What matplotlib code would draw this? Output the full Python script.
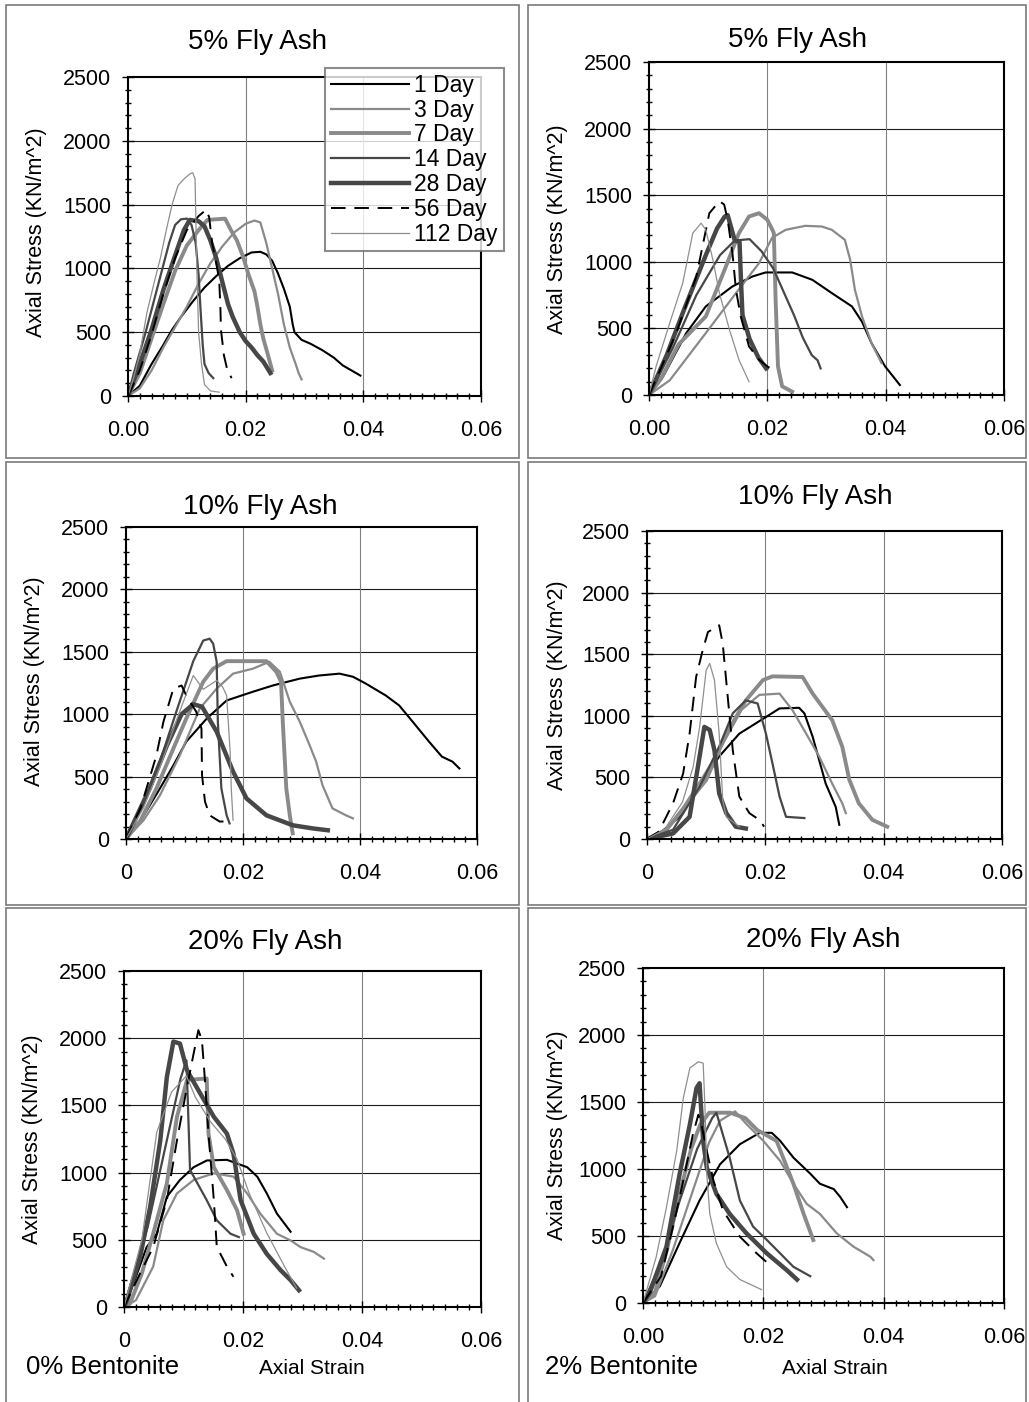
import matplotlib
matplotlib.use("Agg")
import matplotlib.pyplot as plt
from matplotlib.patches import Rectangle
from matplotlib.lines import Line2D
from matplotlib.ticker import MultipleLocator

plt.rcParams['font.family'] = ['Liberation Sans', 'DejaVu Sans']

W, H = 1029, 1402

ages = ['1 Day', '3 Day', '7 Day', '14 Day', '28 Day', '56 Day', '112 Day']
titles = ['5% Fly Ash', '5% Fly Ash', '10% Fly Ash', '10% Fly Ash', '20% Fly Ash', '20% Fly Ash']
xticks = [0, 0.02, 0.04, 0.06]
xlabels_dec = ['0.00', '0.02', '0.04', '0.06']
xlabels_int = ['0', '0.02', '0.04', '0.06']
yticks = [0, 500, 1000, 1500, 2000, 2500]

# (strain, stress kN/m^2)
# 5% fly ash, 0% bentonite
tl_d1 = [(0, 0), (0.002, 80), (0.004, 250), (0.006, 400), (0.0075, 520), (0.009, 620), (0.011, 740),
         (0.013, 850), (0.015, 940), (0.017, 1020), (0.019, 1080), (0.021, 1125), (0.0225, 1130),
         (0.0235, 1110), (0.0245, 1060), (0.0255, 960), (0.0265, 840), (0.0275, 700), (0.028, 560),
         (0.0283, 500), (0.0295, 440), (0.031, 410), (0.033, 360), (0.035, 300), (0.0365, 240),
         (0.038, 200), (0.0395, 160)]
tl_d3 = [(0, 0), (0.002, 60), (0.004, 200), (0.006, 380), (0.008, 540), (0.010, 700), (0.012, 880),
         (0.014, 1040), (0.016, 1170), (0.018, 1280), (0.020, 1350), (0.0215, 1375), (0.0225, 1360),
         (0.0235, 1200), (0.0245, 1000), (0.0255, 800), (0.0265, 560), (0.0275, 380), (0.0285, 250),
         (0.029, 180), (0.0295, 130)]
tl_d7 = [(0, 0), (0.002, 180), (0.004, 450), (0.006, 720), (0.008, 980), (0.010, 1180), (0.012, 1300),
         (0.0135, 1380), (0.0165, 1390), (0.0175, 1300), (0.0185, 1220), (0.0195, 1100), (0.0205, 950),
         (0.0215, 820), (0.022, 700), (0.0225, 560), (0.023, 450), (0.0238, 320), (0.0245, 200)]
tl_d14 = [(0, 0), (0.001, 180), (0.003, 500), (0.005, 850), (0.007, 1200), (0.008, 1340), (0.009, 1385),
          (0.010, 1390), (0.0108, 1340), (0.0115, 1200), (0.012, 950), (0.0123, 700), (0.0127, 400),
          (0.013, 250), (0.0137, 180), (0.0145, 140)]
tl_d28 = [(0, 0), (0.002, 250), (0.004, 520), (0.006, 830), (0.008, 1100), (0.0095, 1300), (0.0105, 1380),
          (0.012, 1370), (0.013, 1330), (0.014, 1220), (0.015, 1080), (0.016, 900), (0.017, 720),
          (0.0178, 620), (0.019, 500), (0.020, 430), (0.021, 380), (0.022, 320), (0.023, 270), (0.0242, 180)]
tl_d56 = [(0, 0), (0.002, 200), (0.004, 480), (0.006, 800), (0.008, 1080), (0.010, 1300), (0.012, 1410),
          (0.0133, 1460), (0.0138, 1400), (0.0143, 1200), (0.015, 1040), (0.0155, 910), (0.0157, 700),
          (0.0158, 520), (0.0163, 320), (0.0168, 220), (0.0176, 140)]
tl_d112 = [(0, 0), (0.001, 150), (0.002, 330), (0.0032, 650), (0.0045, 900), (0.0055, 1080), (0.0066, 1320),
           (0.0075, 1500), (0.0085, 1650), (0.0095, 1700), (0.0105, 1740), (0.011, 1750), (0.0114, 1700),
           (0.0117, 1000), (0.012, 500), (0.0125, 250), (0.013, 90), (0.014, 40), (0.0155, 30)]

# 5% fly ash, 2% bentonite
tr_d1 = [(0, 0), (0.0024, 140), (0.0063, 465), (0.0096, 665), (0.0141, 815), (0.0175, 890), (0.0197, 920),
         (0.0242, 920), (0.0276, 865), (0.0309, 765), (0.0343, 665), (0.036, 550), (0.0376, 390),
         (0.0399, 215), (0.0424, 75)]
tr_d3 = [(0, 0), (0.0035, 110), (0.0096, 465), (0.0147, 765), (0.0186, 990), (0.0208, 1180), (0.0231, 1240),
         (0.0264, 1270), (0.0292, 1265), (0.0309, 1240), (0.0331, 1165), (0.034, 1015), (0.0348, 790),
         (0.036, 590), (0.0376, 390), (0.0393, 240)]
tr_d7 = [(0, 0), (0.002, 120), (0.005, 380), (0.0096, 590), (0.013, 965), (0.0152, 1215), (0.0169, 1340),
         (0.0186, 1365), (0.020, 1315), (0.0208, 1245), (0.0211, 1215), (0.0214, 715), (0.0218, 215),
         (0.0225, 65), (0.0242, 25)]
tr_d14 = [(0, 0), (0.004, 350), (0.008, 750), (0.012, 1050), (0.0145, 1160), (0.017, 1170), (0.019, 1080),
          (0.021, 950), (0.023, 750), (0.0245, 600), (0.026, 430), (0.0275, 300), (0.0285, 260), (0.029, 200)]
tr_d28 = [(0, 0), (0.003, 300), (0.006, 650), (0.0096, 1050), (0.0115, 1250), (0.0128, 1340), (0.0133, 1350),
          (0.0145, 1160), (0.0153, 1150), (0.0156, 800), (0.0158, 600), (0.017, 420), (0.0185, 280),
          (0.0198, 200)]
tr_d56 = [(0, 0), (0.002, 200), (0.0046, 465), (0.008, 890), (0.0102, 1365), (0.0119, 1455), (0.0127, 1430),
          (0.0133, 1315), (0.0141, 1065), (0.0147, 790), (0.0155, 590), (0.0169, 365), (0.0186, 265),
          (0.020, 215), (0.0214, 175)]
tr_d112 = [(0, 0), (0.0012, 215), (0.0035, 540), (0.0057, 840), (0.0074, 1215), (0.0088, 1290),
           (0.0096, 1240), (0.0108, 1015), (0.0119, 765), (0.0136, 490), (0.0152, 265), (0.0169, 100)]

# 10% fly ash, 0% bentonite
ml_d1 = [(0, 0), (0.0024, 140), (0.0058, 405), (0.0081, 590), (0.0103, 780), (0.0138, 965), (0.0172, 1110),
         (0.0217, 1180), (0.0251, 1230), (0.0297, 1285), (0.033, 1310), (0.0365, 1325), (0.0388, 1300),
         (0.041, 1245), (0.0444, 1150), (0.0467, 1070), (0.049, 940), (0.0518, 780), (0.054, 660),
         (0.0558, 620), (0.057, 565)]
ml_d3 = [(0, 0), (0.003, 150), (0.0058, 350), (0.0092, 670), (0.0126, 1045), (0.0155, 1205), (0.0183, 1325),
         (0.0217, 1365), (0.0245, 1420), (0.0263, 1340), (0.028, 1100), (0.0297, 940), (0.0314, 750),
         (0.0325, 620), (0.0336, 430), (0.0353, 245), (0.0376, 190), (0.0388, 165)]
ml_d7 = [(0, 0), (0.0025, 150), (0.0052, 405), (0.0081, 725), (0.0103, 965), (0.0132, 1260), (0.0149, 1365),
         (0.0172, 1425), (0.024, 1425), (0.0257, 1340), (0.0265, 1260), (0.0268, 940), (0.0274, 405),
         (0.028, 190), (0.0285, 45)]
ml_d14 = [(0, 0), (0.003, 280), (0.0058, 620), (0.0086, 1020), (0.0115, 1425), (0.0132, 1590), (0.0143, 1605),
          (0.0149, 1565), (0.0155, 1420), (0.0157, 940), (0.0163, 405), (0.0172, 190), (0.0177, 125)]
ml_d28 = [(0, 0), (0.004, 400), (0.007, 750), (0.0095, 1000), (0.0115, 1080), (0.013, 1060), (0.0155, 860),
          (0.0183, 540), (0.0206, 325), (0.024, 190), (0.0285, 110), (0.0319, 85), (0.0345, 70)]
ml_d56 = [(0, 0), (0.0025, 250), (0.0052, 670), (0.0064, 940), (0.0081, 1205), (0.0095, 1230), (0.0103, 1150),
          (0.012, 1020), (0.0129, 885), (0.013, 510), (0.0135, 300), (0.0143, 190), (0.016, 140), (0.0177, 140)]
ml_d112 = [(0, 0), (0.003, 250), (0.006, 600), (0.009, 1000), (0.0115, 1310), (0.0132, 1200), (0.0155, 1270),
           (0.0165, 1220), (0.0172, 1150), (0.0178, 700), (0.018, 400), (0.0183, 150)]

# 10% fly ash, 2% bentonite
mr_d1 = [(0, 0), (0.0021, 45), (0.0055, 180), (0.0089, 425), (0.0122, 670), (0.0156, 855), (0.0201, 990),
         (0.0224, 1060), (0.0257, 1065), (0.0266, 1020), (0.028, 830), (0.0302, 450), (0.0319, 260),
         (0.0325, 115)]
mr_d3 = [(0, 0), (0.003, 60), (0.006, 250), (0.009, 470), (0.012, 700), (0.016, 1050), (0.019, 1170),
         (0.0224, 1180), (0.0246, 1045), (0.0269, 855), (0.0291, 670), (0.0313, 450), (0.033, 290),
         (0.0336, 210)]
mr_d7 = [(0, 0), (0.0033, 75), (0.010, 480), (0.0134, 855), (0.0167, 1125), (0.0196, 1290), (0.0212, 1320),
         (0.0263, 1315), (0.028, 1180), (0.0313, 965), (0.033, 750), (0.0342, 480), (0.0358, 290),
         (0.0381, 155), (0.0406, 100)]
mr_d14 = [(0, 0), (0.0044, 75), (0.0089, 425), (0.0122, 750), (0.0145, 1020), (0.0167, 1125), (0.0187, 1100),
          (0.0201, 855), (0.0212, 615), (0.0224, 345), (0.0235, 180), (0.0266, 170)]
mr_d28 = [(0, 0), (0.0044, 45), (0.0072, 180), (0.0086, 585), (0.0097, 910), (0.0106, 885), (0.0114, 720),
          (0.0122, 370), (0.0134, 210), (0.015, 100), (0.0167, 85)]
mr_d56 = [(0, 0), (0.002, 60), (0.0044, 290), (0.0061, 530), (0.0072, 855), (0.0083, 1315), (0.0094, 1530),
          (0.0103, 1680), (0.0122, 1735), (0.0128, 1585), (0.0137, 1125), (0.0145, 720), (0.0156, 345),
          (0.0173, 210), (0.019, 155), (0.0198, 100)]
mr_d112 = [(0, 0), (0.003, 80), (0.006, 300), (0.0078, 585), (0.0089, 910), (0.010, 1370), (0.0106, 1425),
           (0.0114, 1290), (0.0122, 855), (0.0128, 315), (0.0134, 180), (0.0156, 100)]

# 20% fly ash, 0% bentonite
bl_d1 = [(0, 0), (0.0016, 175), (0.0038, 445), (0.0055, 545), (0.0072, 820), (0.0094, 945), (0.0117, 1040),
         (0.0139, 1090), (0.0173, 1095), (0.0207, 1040), (0.0224, 970), (0.024, 845), (0.0257, 695),
         (0.028, 560)]
bl_d3 = [(0, 0), (0.002, 50), (0.0049, 300), (0.0066, 645), (0.0089, 845), (0.0117, 945), (0.0151, 995),
         (0.0184, 970), (0.0207, 845), (0.0229, 695), (0.0257, 545), (0.028, 495), (0.0297, 445),
         (0.0319, 410), (0.0336, 360)]
bl_d7 = [(0, 0), (0.001, 25), (0.003, 250), (0.0049, 545), (0.0072, 920), (0.0089, 1415), (0.0106, 1690),
         (0.0139, 1700), (0.0142, 1290), (0.0151, 1040), (0.0173, 870), (0.019, 720), (0.0201, 545)]
bl_d14 = [(0, 0), (0.004, 600), (0.007, 1200), (0.0095, 1700), (0.0105, 1835), (0.0111, 1020), (0.0139, 795),
          (0.0156, 645), (0.0179, 545), (0.0193, 520)]
bl_d28 = [(0, 0), (0.0005, 50), (0.0027, 370), (0.0044, 745), (0.0061, 1240), (0.0072, 1710), (0.0083, 1975),
          (0.0094, 1960), (0.0106, 1760), (0.0128, 1590), (0.0151, 1415), (0.0173, 1290), (0.0184, 1140),
          (0.0196, 795), (0.0218, 545), (0.024, 395), (0.0263, 275), (0.028, 200), (0.0294, 125)]
bl_d56 = [(0, 0), (0.0027, 250), (0.0049, 445), (0.0072, 795), (0.0089, 1240), (0.0106, 1640), (0.0117, 1885),
          (0.0125, 2060), (0.0131, 1985), (0.0136, 1690), (0.0142, 1290), (0.0151, 795), (0.0156, 445),
          (0.0165, 370), (0.0173, 300), (0.0184, 225)]
bl_d112 = [(0, 0), (0.003, 500), (0.0055, 1300), (0.008, 1600), (0.0105, 1720), (0.012, 1560), (0.0145, 1380),
           (0.017, 1250), (0.019, 1100), (0.021, 850), (0.024, 550), (0.027, 300), (0.029, 140)]

# 20% fly ash, 2% bentonite
br_d1 = [(0, 0), (0.0028, 125), (0.0061, 450), (0.0094, 765), (0.0128, 1035), (0.0161, 1185), (0.0194, 1270),
         (0.0214, 1270), (0.0228, 1210), (0.025, 1085), (0.0278, 965), (0.0294, 890), (0.0317, 850),
         (0.0328, 790), (0.0339, 715)]
br_d3 = [(0, 0), (0.002, 50), (0.005, 400), (0.008, 800), (0.011, 1200), (0.0128, 1360), (0.0153, 1430),
         (0.0172, 1335), (0.020, 1210), (0.0228, 1060), (0.025, 890), (0.0272, 740), (0.0294, 665),
         (0.0322, 520), (0.035, 420), (0.0378, 345), (0.0383, 320)]
br_d7 = [(0, 0), (0.002, 80), (0.004, 400), (0.006, 800), (0.008, 1150), (0.0095, 1330), (0.011, 1420),
         (0.0145, 1420), (0.017, 1380), (0.019, 1290), (0.0222, 1210), (0.025, 890), (0.0267, 665),
         (0.0283, 470)]
br_d14 = [(0, 0), (0.003, 300), (0.006, 750), (0.009, 1150), (0.0115, 1380), (0.0122, 1420), (0.0144, 1085),
          (0.0161, 765), (0.0183, 570), (0.0206, 470), (0.0228, 370), (0.025, 270), (0.0278, 200)]
br_d28 = [(0, 0), (0.0011, 75), (0.0039, 420), (0.0061, 965), (0.0078, 1335), (0.0089, 1605), (0.0094, 1640),
          (0.010, 1210), (0.0106, 1010), (0.0122, 815), (0.0144, 665), (0.0172, 520), (0.0206, 370),
          (0.0239, 245), (0.0256, 175)]
br_d56 = [(0, 0), (0.003, 200), (0.005, 570), (0.0067, 915), (0.0083, 1260), (0.0092, 1405), (0.0097, 1335),
          (0.0106, 1135), (0.0117, 915), (0.0133, 690), (0.0161, 495), (0.0189, 370), (0.0208, 295)]
br_d112 = [(0, 0), (0.0022, 345), (0.0039, 715), (0.0056, 1135), (0.0067, 1530), (0.0078, 1755),
           (0.0092, 1800), (0.010, 1790), (0.0103, 1460), (0.0106, 965), (0.0111, 665), (0.0122, 445),
           (0.0139, 270), (0.0161, 175), (0.0197, 100)]

panel_curves = [
    [tl_d1, tl_d3, tl_d7, tl_d14, tl_d28, tl_d56, tl_d112],
    [tr_d1, tr_d3, tr_d7, tr_d14, tr_d28, tr_d56, tr_d112],
    [ml_d1, ml_d3, ml_d7, ml_d14, ml_d28, ml_d56, ml_d112],
    [mr_d1, mr_d3, mr_d7, mr_d14, mr_d28, mr_d56, mr_d112],
    [bl_d1, bl_d3, bl_d7, bl_d14, bl_d28, bl_d56, bl_d112],
    [br_d1, br_d3, br_d7, br_d14, br_d28, br_d56, br_d112],
]

styles = [
    dict(color='black', lw=1.5, ls='-'),
    dict(color='#8a8a8a', lw=1.6, ls='-'),
    dict(color='#8a8a8a', lw=2.8, ls='-'),
    dict(color='#474747', lw=1.6, ls='-'),
    dict(color='#474747', lw=3.2, ls='-'),
    dict(color='black', lw=1.4, ls=(0, (7.5, 4.5))),
    dict(color='#8f8f8f', lw=0.9, ls='-'),
]

# layout in pixels: axes (left, top, right, bottom), title centre, y-label centre
axes_px = [(128, 77, 481, 396), (649, 62, 1004, 395), (126, 527, 477, 839),
           (647, 531, 1002, 839), (124, 971, 481, 1307), (643, 968, 1004, 1303)]
title_px = [(258, 42), (798, 40), (260, 507), (815, 497), (265, 942), (823, 940)]
ylab_px = [(37, 232), (558, 229), (35, 681), (558, 685), (33, 1139), (558, 1135)]
xlab_style = [xlabels_dec, xlabels_dec, xlabels_int, xlabels_int, xlabels_int, xlabels_dec]

fig = plt.figure(figsize=(W / 100, H / 100), dpi=100)

# panel frames
box_px = [(6, 5, 519, 458), (528, 5, 1026, 458), (6, 462, 519, 905),
          (528, 462, 1026, 905), (6, 908, 519, 1410), (528, 908, 1026, 1410)]
for l, t, r, b in box_px:
    fig.patches.append(Rectangle((l / W, 1 - b / H), (r - l) / W, (b - t) / H,
                                 transform=fig.transFigure, fill=False,
                                 edgecolor='#7a7a7a', lw=1.2))

axes = []
for i, (l, t, r, b) in enumerate(axes_px):
    ax = fig.add_axes([l / W, 1 - b / H, (r - l) / W, (b - t) / H])
    axes.append(ax)
    for pts, st in zip(panel_curves[i], styles):
        xs = [p[0] for p in pts]
        ys = [p[1] for p in pts]
        ax.plot(xs, ys, color=st['color'], lw=st['lw'], ls=st['ls'], solid_joinstyle='round')
    ax.set_xlim(0, 0.06)
    ax.set_ylim(0, 2500)
    ax.set_xticks(xticks, xlab_style[i])
    ax.set_yticks(yticks, [str(v) for v in yticks])
    ax.xaxis.set_minor_locator(MultipleLocator(0.002))
    ax.yaxis.set_minor_locator(MultipleLocator(100))
    ax.tick_params(which='major', direction='inout', length=8, width=1.0, labelsize=15.5, color='black')
    ax.tick_params(which='minor', direction='inout', length=5, width=1.0, color='black')
    ax.tick_params(axis='x', which='major', pad=13)
    ax.tick_params(axis='y', which='major', pad=8)
    for v in [500, 1000, 1500, 2000]:
        ax.axhline(v, color='#1a1a1a', lw=0.8, zorder=0)
    for v in [0.02, 0.04]:
        ax.axvline(v, color='#808080', lw=0.8, zorder=0)
    for sp in ax.spines.values():
        sp.set_linewidth(1.5)
    tx, ty = title_px[i]
    fig.text(tx / W, 1 - ty / H, titles[i], ha='center', va='center', fontsize=20)
    lx, ly = ylab_px[i]
    fig.text(lx / W, 1 - ly / H, 'Axial Stress (KN/m^2)', ha='center', va='center',
             rotation=90, fontsize=15.5)

handles = [Line2D([], [], color=st['color'], lw=st['lw'], ls=st['ls']) for st in styles]
leg = axes[0].legend(handles, ages, loc='upper left', bbox_to_anchor=(325 / W, 1 - 68 / H),
                     bbox_transform=fig.transFigure, fontsize=16.5, frameon=True, fancybox=False,
                     borderpad=0.25, handlelength=3.4, handletextpad=0.25, labelspacing=0.08,
                     borderaxespad=0)
leg.get_frame().set_edgecolor('#707070')
leg.get_frame().set_linewidth(1.5)

fig.text(26 / W, 1 - 1367 / H, '0% Bentonite', ha='left', va='center', fontsize=18.5)
fig.text(312 / W, 1 - 1368 / H, 'Axial Strain', ha='center', va='center', fontsize=15)
fig.text(545 / W, 1 - 1367 / H, '2% Bentonite', ha='left', va='center', fontsize=18.5)
fig.text(835 / W, 1 - 1368 / H, 'Axial Strain', ha='center', va='center', fontsize=15)

fig.savefig('out.png', dpi=100)
